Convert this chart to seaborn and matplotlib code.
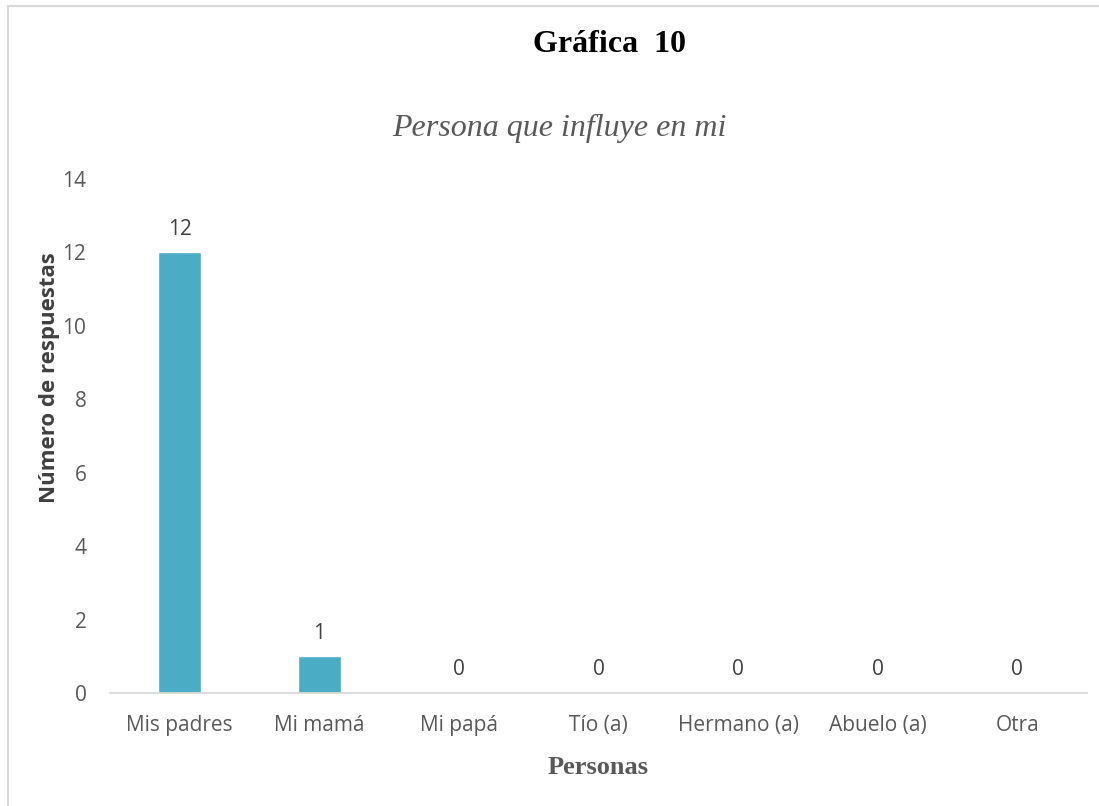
import matplotlib
matplotlib.use("Agg")
import matplotlib.pyplot as plt
import seaborn as sns
import pandas as pd
from matplotlib.patches import Rectangle

categories = ["Mis padres", "Mi mamá", "Mi papá", "Tío (a)", "Hermano (a)", "Abuelo (a)", "Otra"]
values = [12, 1, 0, 0, 0, 0, 0]
yticks = [0, 2, 4, 6, 8, 10, 12, 14]

sns.set_theme(style="white")
plt.rcParams['font.family'] = ['Open Sans', 'DejaVu Sans']

df = pd.DataFrame({"Persona": categories, "Respuestas": values})

fig = plt.figure(figsize=(10.99, 8.06), dpi=100)
ax = fig.add_axes([0.1001, 0.140, 0.889, 0.638])
sns.barplot(data=df, x="Persona", y="Respuestas", color="#4BACC6", width=0.31,
            saturation=1, ax=ax)
ax.set_ylim(0, 14)
ax.set_yticks(yticks)
ax.set_xlim(-0.5, len(categories) - 0.5)
for s in ["top", "right", "left"]:
    ax.spines[s].set_visible(False)
ax.spines["bottom"].set_color("#D9D9D9")
ax.spines["bottom"].set_linewidth(1.3)
ax.tick_params(axis="both", length=0, labelsize=15, colors="#595959")
ax.tick_params(axis="y", pad=17)
ax.tick_params(axis="x", pad=16)

for i, v in enumerate(values):
    ax.text(i, v + 0.35, str(v), ha="center", va="bottom", fontsize=15, color="#404040")

ax.set_xlabel("Personas", family="Liberation Serif", fontweight="bold", fontsize=19,
              color="#595959", labelpad=14)
ax.set_ylabel("")
fig.text(50 / 1099, 1 - 378 / 806, "Número de respuestas", rotation=90,
         fontweight="bold", fontsize=16, color="#404040", ha="center", va="center")

fig.text(0.555, 1 - 45 / 806, "Gráfica  10", family="Liberation Serif", fontweight="bold",
         fontsize=23, color="black", ha="center", va="center")
fig.text(0.509, 1 - 128 / 806, "Persona que influye en mi", family="Liberation Serif",
         style="italic", fontsize=23, color="#595959", ha="center", va="center")

fig.patches.append(Rectangle((8 / 1099, -0.01), 1.0, 1 - 6 / 806 + 0.01,
                             transform=fig.transFigure, fill=False,
                             edgecolor="#D9D9D9", linewidth=1.5))

fig.savefig("out.png", dpi=100)
